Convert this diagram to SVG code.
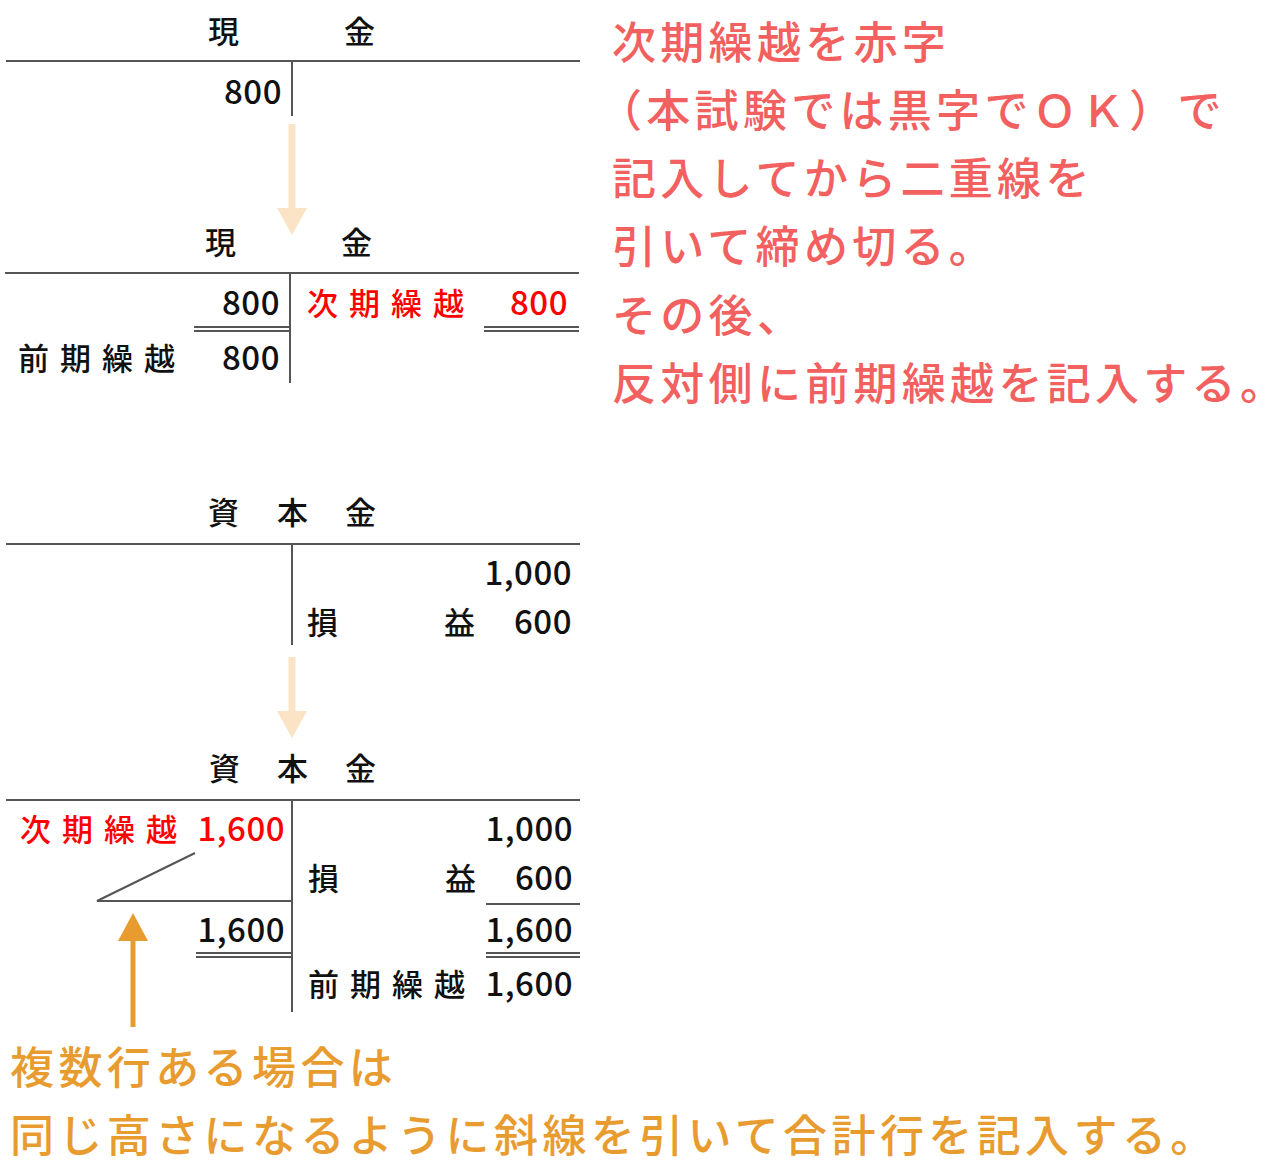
<svg xmlns="http://www.w3.org/2000/svg" width="1274" height="1176" viewBox="0 0 1274 1176">
<style>
text{font-family:"Noto Sans CJK JP","Noto Sans",sans-serif;font-weight:500}
.t{font-size:31px;fill:#111}
.d{font-size:33px;letter-spacing:0.5px}
.r{fill:#ff0000}
.e{text-anchor:end}
.ln{stroke:#555;stroke-width:2;fill:none}
.n{font-size:44px;fill:#f26060;letter-spacing:4.3px}
.o{font-size:44px;fill:#e89c30;letter-spacing:4.4px}
</style>
<rect width="1274" height="1176" fill="#fff"/>
<g id="acct1">
<text class="t" x="208" y="43">現</text><text class="t" x="344" y="43">金</text>
<path class="ln" d="M6 61H580M292 61V116"/>
<text class="t d e" x="282" y="104">800</text>
</g>
<g id="acct2">
<text class="t" x="205" y="254">現</text><text class="t" x="341" y="254">金</text>
<path class="ln" d="M5 273H579M290 273V383M194 327H290M194 331H290M484 327H579M484 331H579"/>
<text class="t d e" x="280" y="315">800</text>
<text class="t r" x="307" y="315" letter-spacing="11">次期繰越</text>
<text class="t d r e" x="568" y="315">800</text>
<text class="t" x="18" y="370" letter-spacing="11">前期繰越</text>
<text class="t d e" x="280" y="370">800</text>
</g>
<g id="acct3">
<text class="t" x="208" y="524">資</text><text class="t" x="277" y="524">本</text><text class="t" x="345" y="524">金</text>
<path class="ln" d="M6 544H580M292 544V645"/>
<text class="t d e" x="572" y="585">1,000</text>
<text class="t" x="307" y="634">損</text><text class="t" x="444" y="634">益</text>
<text class="t d e" x="572" y="634">600</text>
</g>
<g id="acct4">
<text class="t" x="209" y="780">資</text><text class="t" x="277" y="780">本</text><text class="t" x="345" y="780">金</text>
<path class="ln" d="M6 800H580M292 800V1012M195 853L97 901H292M196 953H292M196 957H292M486 904H580M486 953H580M486 957H580"/>
<text class="t r" x="20" y="841" letter-spacing="11">次期繰越</text>
<text class="t d r e" x="285" y="841">1,600</text>
<text class="t d e" x="285" y="942">1,600</text>
<text class="t d e" x="573" y="841">1,000</text>
<text class="t" x="308" y="890">損</text><text class="t" x="445" y="890">益</text>
<text class="t d e" x="573" y="890">600</text>
<text class="t d e" x="573" y="942">1,600</text>
<text class="t" x="308" y="996" letter-spacing="11">前期繰越</text>
<text class="t d e" x="573" y="996">1,600</text>
</g>
<g id="connectors">
<path d="M292 124V212" stroke="#fbe3c5" stroke-width="7"/><path d="M277 208H307L292 235Z" fill="#fbe3c5"/>
<path d="M292 657V715" stroke="#fbe3c5" stroke-width="7"/><path d="M277 711H307L292 738Z" fill="#fbe3c5"/>
<path d="M133 1027V938" stroke="#e89c30" stroke-width="5"/><path d="M118 941H148L133 913Z" fill="#e89c30"/>
</g>
<g id="note1">
<text class="n" x="612" y="59">次期繰越を赤字</text>
<text class="n" x="598" y="127">（本試験では黒字でＯＫ）で</text>
<text class="n" x="612" y="195">記入してから二重線を</text>
<text class="n" x="612" y="263">引いて締め切る。</text>
<text class="n" x="612" y="332">その後、</text>
<text class="n" x="612" y="400" letter-spacing="3.4">反対側に前期繰越を記入する。</text>
</g>
<g id="note2">
<text class="o" x="10" y="1084">複数行ある場合は</text>
<text class="o" x="10" y="1152">同じ高さになるように斜線を引いて合計行を記入する。</text>
</g>
</svg>
